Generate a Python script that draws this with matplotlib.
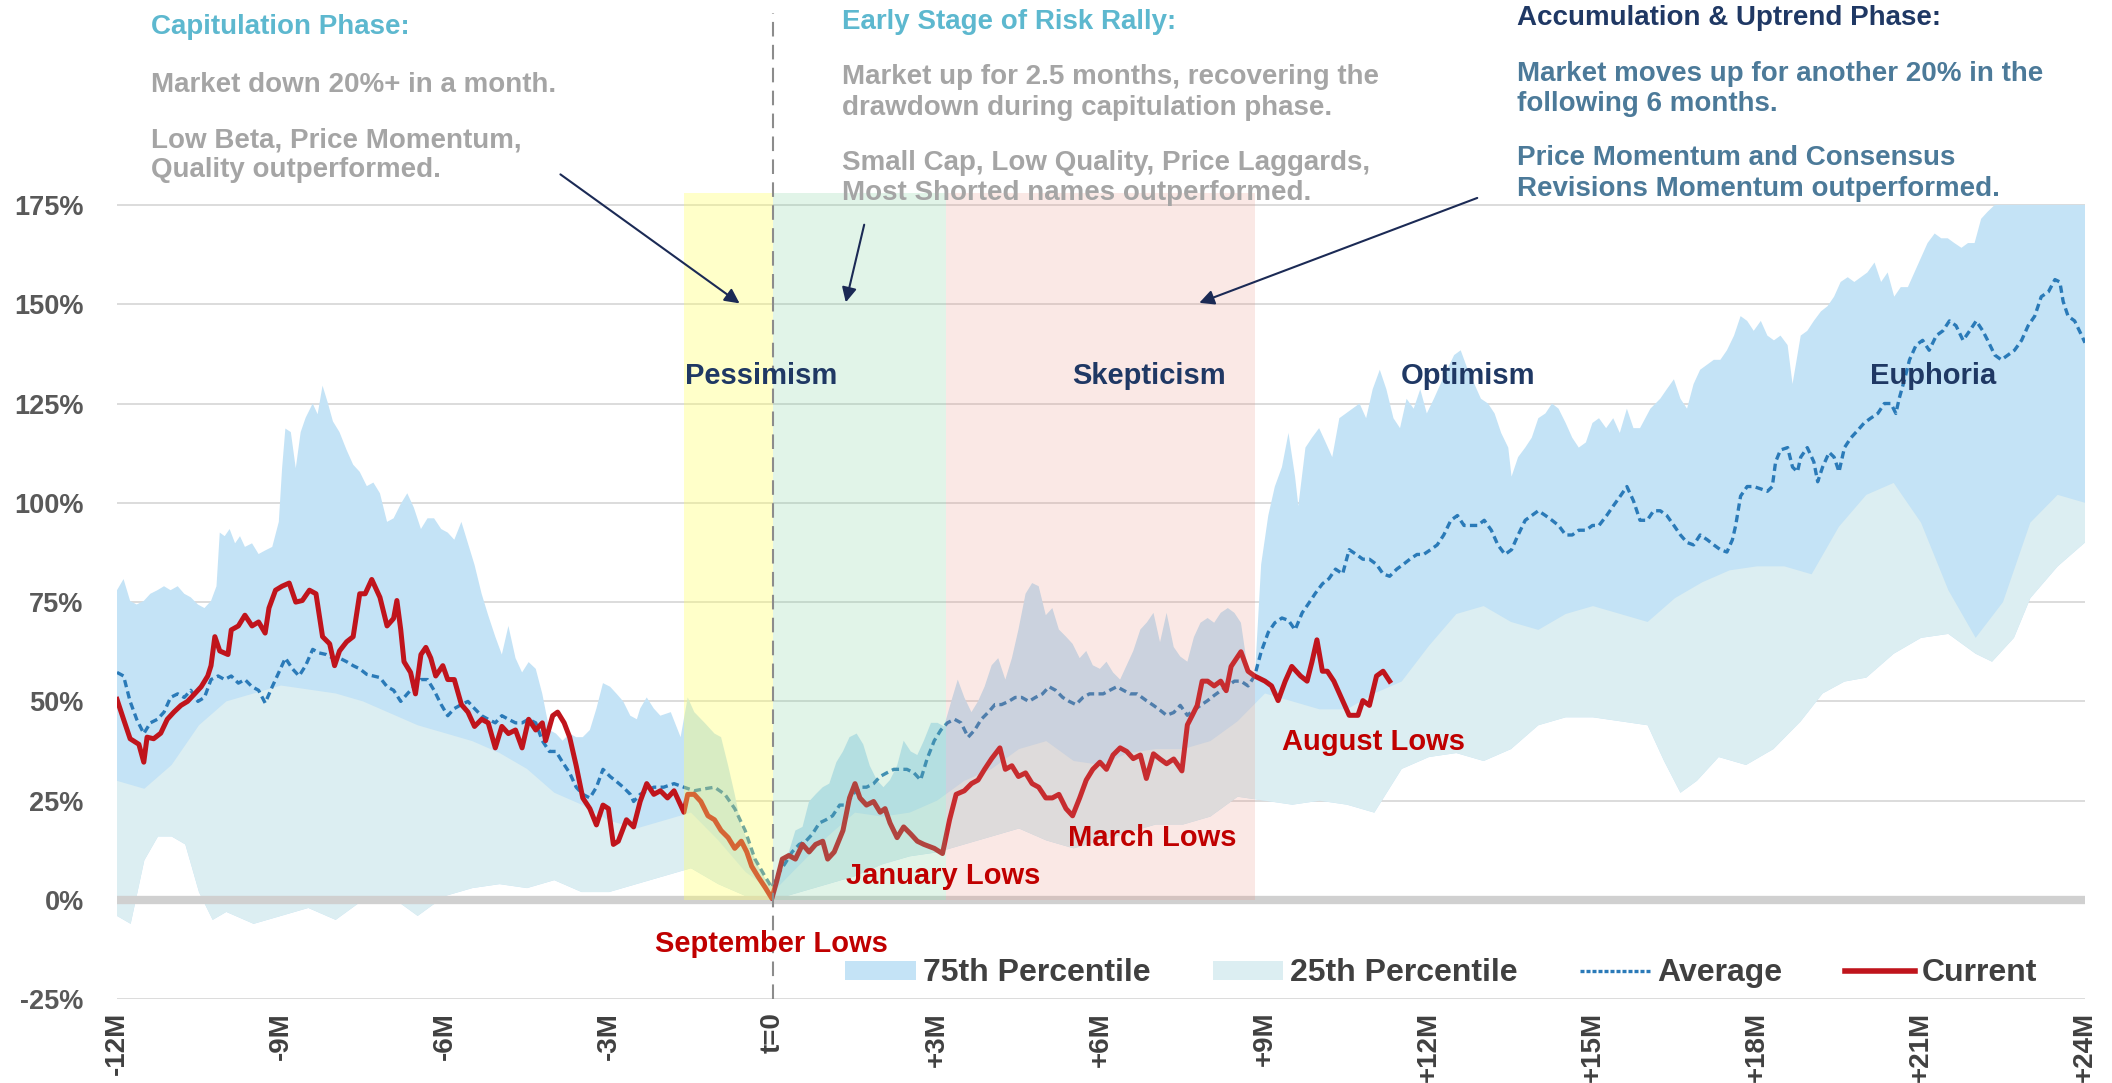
import numpy as np
import matplotlib
matplotlib.use('Agg')
import matplotlib.pyplot as plt
from matplotlib.patches import Patch
from matplotlib.lines import Line2D

plt.rcParams['font.family'] = ['Liberation Sans', 'DejaVu Sans']

# months from the September low (t=0), returns in %
cur_m = [-12.0, -11.88, -11.76, -11.6, -11.51, -11.45, -11.33, -11.2, -11.08, -10.96, -10.83, -10.71,
         -10.58, -10.46, -10.34, -10.28, -10.21, -10.12, -9.97, -9.91, -9.78, -9.66, -9.53, -9.41,
         -9.29, -9.22, -9.1, -8.98, -8.85, -8.73, -8.61, -8.48, -8.36, -8.24, -8.11, -8.02, -7.93,
         -7.8, -7.68, -7.56, -7.46, -7.34, -7.25, -7.19, -7.06, -6.94, -6.88, -6.81, -6.75, -6.63,
         -6.54, -6.44, -6.35, -6.26, -6.17, -6.04, -5.95, -5.83, -5.7, -5.58, -5.46, -5.33, -5.21,
         -5.08, -4.96, -4.84, -4.71, -4.59, -4.47, -4.34, -4.22, -4.16, -4.03, -3.94, -3.82, -3.72,
         -3.6, -3.48, -3.35, -3.23, -3.11, -3.01, -2.92, -2.83, -2.68, -2.55, -2.43, -2.31, -2.18,
         -2.06, -1.93, -1.81, -1.72, -1.63, -1.56, -1.44, -1.32, -1.19, -1.07, -0.95, -0.82, -0.7,
         -0.58, -0.48, -0.39, -0.27, -0.14, -0.02, 0.07, 0.17, 0.29, 0.41, 0.54, 0.66, 0.78, 0.91,
         1.0, 1.12, 1.28, 1.4, 1.5, 1.59, 1.71, 1.84, 1.96, 2.05, 2.14, 2.27, 2.39, 2.52, 2.64,
         2.76, 2.95, 3.1, 3.23, 3.35, 3.5, 3.63, 3.75, 3.87, 4.0, 4.15, 4.25, 4.37, 4.49, 4.62,
         4.74, 4.86, 4.99, 5.11, 5.23, 5.36, 5.48, 5.61, 5.73, 5.85, 5.98, 6.1, 6.22, 6.35, 6.47,
         6.59, 6.72, 6.83, 6.96, 7.08, 7.2, 7.33, 7.48, 7.58, 7.67, 7.76, 7.85, 7.95, 8.07, 8.19,
         8.29, 8.38, 8.5, 8.56, 8.69, 8.81, 9.0, 9.12, 9.24, 9.37, 9.49, 9.65, 9.77, 9.86, 9.95,
         10.05, 10.14, 10.26, 10.42, 10.54, 10.7, 10.79, 10.91, 11.04, 11.16, 11.28]
cur_v = [50.5, 45.5, 40.6, 39.2, 34.7, 41, 40.6, 42, 45.5, 47.3, 49, 50,
         51.9, 53.7, 56.4, 59, 66.3, 62.7, 61.8, 68, 69, 71.7, 69, 70,
         67.2, 73.5, 78, 79, 79.8, 75, 75.4, 78, 77.1, 66.3, 64.5, 59, 62.7,
         65, 66.3, 77.1, 77.1, 80.7, 78, 76.2, 69, 70.9, 75.4, 68.1, 60, 57.3,
         51.9, 61.8, 63.6, 60.9, 56.4, 59, 55.5, 55.5, 49.2, 47.3, 43.7, 45.5, 44.6,
         38.3, 43.7, 41.9, 42.8, 38.3, 45.5, 42.8, 44.6, 40.1, 46.4, 47.3, 44.6, 41,
         33.8, 25.7, 23, 18.9, 23.9, 23, 14, 14.8, 20.2, 18.4, 24.8, 29.3, 26.6,
         27.5, 25.7, 27.5, 24.8, 22.1, 26.6, 26.6, 24.8, 21.2, 20.2, 17.5, 15.7, 13,
         14.8, 12.1, 8.5, 5.8, 3.1, 0.4, 4.9, 10.3, 11.2, 10.3, 14, 12.1, 14, 14.8,
         10.3, 12.1, 17.5, 25.7, 29.3, 25.7, 23.9, 24.8, 22.1, 23, 19.4, 15.7, 18.4, 16.6, 14.8,
         14, 13, 11.7, 20.2, 26.6, 27.5, 29.3, 30.2, 32.9, 35.6, 38.3, 32.9, 33.8, 31.1, 32,
         29.3, 28.4, 25.7, 25.7, 26.6, 23, 21.2, 25.7, 30.2, 32.9, 34.7, 32.9, 36.5, 38.3, 37.4,
         35.6, 36.5, 30.6, 36.8, 35.5, 34.3, 35.5, 32.5, 44.1, 46.5, 49, 55.1, 55.1, 53.9, 55.1,
         52.7, 58.8, 61.3, 62.5, 57.6, 56.4, 55.1, 53.9, 50.2, 55.1, 58.8, 56.4, 55.1, 60, 65.5,
         57.6, 57.6, 55.1, 50.2, 46.5, 46.5, 50.2, 49, 56.4, 57.6, 55.1]

avg_m = [-12.0, -11.88, -11.76, -11.64, -11.51, -11.39, -11.26, -11.14, -11.02, -10.89, -10.77, -10.65,
         -10.52, -10.4, -10.28, -10.15, -10.03, -9.91, -9.78, -9.66, -9.53, -9.41, -9.29, -9.16,
         -9.04, -8.92, -8.79, -8.67, -8.55, -8.42, -8.3, -8.17, -8.05, -7.93, -7.8, -7.68, -7.56,
         -7.43, -7.31, -7.19, -7.06, -6.94, -6.81, -6.69, -6.57, -6.44, -6.32, -6.2, -6.07, -5.95,
         -5.83, -5.7, -5.58, -5.46, -5.33, -5.21, -5.08, -4.96, -4.84, -4.71, -4.59, -4.47, -4.34,
         -4.22, -4.09, -3.97, -3.85, -3.72, -3.6, -3.48, -3.35, -3.23, -3.11, -2.98, -2.86, -2.74,
         -2.61, -2.55, -2.43, -2.31, -2.18, -2.0, -1.81, -1.63, -1.44, -1.25, -1.07, -0.88, -0.7,
         -0.51, -0.33, -0.14, -0.02, 0.1, 0.23, 0.35, 0.48, 0.6, 0.72, 0.85, 0.97, 1.09, 1.22,
         1.34, 1.46, 1.59, 1.71, 1.84, 1.96, 2.08, 2.21, 2.33, 2.45, 2.58, 2.7, 2.82, 2.95, 3.07,
         3.19, 3.32, 3.44, 3.57, 3.69, 3.81, 3.94, 4.06, 4.18, 4.31, 4.43, 4.55, 4.68, 4.8, 4.93,
         5.05, 5.17, 5.3, 5.42, 5.54, 5.67, 5.79, 5.91, 6.04, 6.16, 6.29, 6.41, 6.53, 6.66, 6.83,
         6.96, 7.08, 7.2, 7.33, 7.45, 7.58, 7.7, 7.82, 7.95, 8.07, 8.19, 8.32, 8.44, 8.56, 8.69,
         8.81, 8.93, 9.06, 9.18, 9.31, 9.43, 9.55, 9.68, 9.8, 9.92, 10.05, 10.17, 10.29, 10.42,
         10.54, 10.67, 10.79, 10.91, 11.04, 11.16, 11.28, 11.41, 11.53, 11.65, 11.78, 11.9, 12.03,
         12.15, 12.27, 12.4, 12.52, 12.64, 12.77, 12.89, 13.01, 13.14, 13.26, 13.39, 13.51, 13.63,
         13.76, 13.88, 14.0, 14.13, 14.25, 14.37, 14.5, 14.62, 14.74, 14.87, 14.99, 15.11, 15.25,
         15.37, 15.5, 15.62, 15.74, 15.86, 15.99, 16.11, 16.23, 16.35, 16.48, 16.6, 16.72, 16.84,
         16.96, 17.09, 17.21, 17.33, 17.45, 17.55, 17.61, 17.7, 17.82, 17.94, 18.07, 18.19, 18.28,
         18.34, 18.43, 18.56, 18.65, 18.74, 18.8, 18.92, 19.04, 19.11, 19.2, 19.32, 19.41, 19.5,
         19.6, 19.72, 19.84, 19.96, 20.08, 20.21, 20.33, 20.45, 20.54, 20.6, 20.7, 20.79, 20.91,
         21.03, 21.15, 21.28, 21.4, 21.52, 21.64, 21.77, 21.89, 22.01, 22.13, 22.22, 22.35, 22.47,
         22.59, 22.71, 22.84, 22.96, 23.08, 23.2, 23.33, 23.45, 23.54, 23.6, 23.69, 23.81, 23.94, 24.0]
avg_v = [57.3, 56.4, 50, 45.5, 41.9, 44.6, 45.5, 47.3, 51, 51.9, 51, 52.8,
         50, 51, 55.5, 56.4, 55.5, 56.4, 54.6, 55.5, 53.7, 52.8, 49.6, 53.7,
         57.3, 60.9, 58.2, 56.4, 59, 63.1, 62.2, 61.8, 60.9, 60.9, 60, 59, 58.2,
         56.8, 56.4, 56, 53.7, 52.8, 50, 51.9, 53.7, 55.5, 55.5, 52.8, 49.2, 46.4,
         48.2, 49.2, 50, 48.2, 46.4, 45.5, 44.6, 46.4, 45.5, 44.6, 44.6, 45.5, 44.6,
         40.1, 37.4, 37.4, 34.7, 32, 28.4, 26.6, 25.7, 28.4, 32.9, 31.1, 29.8, 28.4,
         26.6, 24.8, 26.6, 27.5, 28.4, 28.4, 29.3, 28.4, 27.5, 28, 28.4, 26.6, 23,
         17.5, 10.3, 5.8, 3.1, 6.7, 9.4, 12.1, 14, 14.8, 16.6, 19.4, 20.2, 21.2, 23.9,
         23.9, 26.6, 28.4, 28.4, 29.3, 31.1, 32, 32.9, 32.9, 32.9, 32, 30.2, 35.6, 40.1, 42.8,
         44.6, 45.5, 44.6, 41, 42.8, 45.5, 47.3, 49.2, 49.2, 50, 51, 51, 50, 51, 51.9,
         53.7, 52.8, 51, 50, 49.2, 51, 51.9, 51.9, 51.9, 52.8, 53.7, 52.8, 51.9, 51.9, 50.2,
         49, 47.8, 46.5, 47.2, 49, 46.5, 47.8, 49, 50.2, 51.5, 52.7, 53.9, 55.1, 55.1, 53.9,
         56.4, 62.5, 67.4, 69.8, 71, 70.4, 68, 72.3, 74.7, 77.2, 79.6, 80.9, 83.3, 82.1,
         88.2, 87, 85.8, 85.8, 84.5, 82.1, 81.5, 83.3, 84.5, 85.8, 87, 87, 88.2,
         89.4, 91.9, 95.6, 96.8, 94.3, 94.3, 94.3, 95.6, 93.1, 89.4, 87, 88.2, 91.9,
         95.6, 96.8, 98, 96.8, 95.6, 94.3, 91.9, 91.9, 93.1, 93.1, 94.3, 94.3, 96.8,
         99.2, 101.7, 104.1, 100.5, 95.6, 95.6, 98, 98, 96.8, 94.3, 91.9, 90, 89.4,
         91.9, 90.7, 89.4, 88.2, 87.6, 90.7, 94.3, 101.7, 104.1, 104.1, 103.5, 102.9, 104.1,
         110.3, 113.3, 113.9, 109, 107.8, 111.5, 113.9, 110.3, 105.3, 109, 112.7, 111.5, 107.8,
         113.9, 116.4, 118.2, 120.1, 121.3, 122.5, 125, 125, 122.5, 126.2, 131.1, 136, 139.7,
         140.9, 138.4, 142.1, 143.3, 145.8, 144.6, 140.9, 143.3, 145.8, 143.3, 140.9, 137.2, 136,
         137.2, 138.4, 140.9, 144.6, 147, 151.9, 153.1, 156.2, 155.6, 150.7, 147, 145.8, 142.1, 140.3]

# upper edge of the 75th percentile band
p75_m = [-12.0, -11.88, -11.76, -11.64, -11.51, -11.39, -11.26, -11.14, -11.02, -10.89, -10.77, -10.65,
         -10.52, -10.4, -10.28, -10.18, -10.12, -10.03, -9.94, -9.84, -9.75, -9.66, -9.53, -9.41,
         -9.29, -9.16, -9.04, -8.98, -8.92, -8.82, -8.73, -8.64, -8.55, -8.42, -8.33, -8.24, -8.14,
         -8.05, -7.93, -7.8, -7.68, -7.56, -7.43, -7.31, -7.19, -7.06, -6.94, -6.81, -6.69, -6.57,
         -6.44, -6.32, -6.2, -6.07, -5.95, -5.83, -5.7, -5.58, -5.46, -5.33, -5.21, -5.08, -4.96,
         -4.84, -4.71, -4.59, -4.47, -4.34, -4.22, -4.09, -3.97, -3.85, -3.72, -3.6, -3.48, -3.35,
         -3.23, -3.11, -2.98, -2.86, -2.74, -2.61, -2.49, -2.43, -2.31, -2.18, -2.06, -1.87, -1.69,
         -1.56, -1.44, -1.25, -1.07, -0.95, -0.82, -0.7, -0.58, -0.45, -0.33, -0.2, -0.08, 0.04,
         0.17, 0.29, 0.41, 0.54, 0.66, 0.78, 0.91, 1.03, 1.16, 1.28, 1.4, 1.53, 1.65, 1.77, 1.9,
         2.02, 2.14, 2.27, 2.39, 2.52, 2.64, 2.76, 2.89, 3.01, 3.13, 3.26, 3.38, 3.5, 3.63, 3.75,
         3.87, 4.0, 4.12, 4.25, 4.37, 4.49, 4.62, 4.74, 4.86, 4.99, 5.11, 5.23, 5.36, 5.48, 5.61,
         5.73, 5.85, 5.98, 6.1, 6.22, 6.35, 6.47, 6.59, 6.72, 6.84, 6.96, 7.08, 7.2, 7.33, 7.45,
         7.58, 7.7, 7.82, 7.95, 8.07, 8.19, 8.32, 8.44, 8.56, 8.69, 8.81, 8.93, 9.06, 9.18, 9.31,
         9.43, 9.55, 9.61, 9.74, 9.86, 9.99, 10.11, 10.23, 10.36, 10.48, 10.6, 10.73, 10.85, 10.97,
         11.1, 11.22, 11.35, 11.47, 11.59, 11.72, 11.84, 11.96, 12.09, 12.21, 12.33, 12.46, 12.58,
         12.71, 12.83, 12.95, 13.08, 13.2, 13.32, 13.45, 13.51, 13.63, 13.76, 13.88, 14.0, 14.13,
         14.25, 14.37, 14.5, 14.62, 14.74, 14.87, 14.99, 15.11, 15.24, 15.37, 15.49, 15.62, 15.74,
         15.86, 16.05, 16.23, 16.35, 16.48, 16.6, 16.72, 16.84, 16.96, 17.09, 17.21, 17.33, 17.45,
         17.58, 17.7, 17.82, 17.94, 18.07, 18.19, 18.31, 18.43, 18.56, 18.65, 18.8, 18.92, 19.04,
         19.17, 19.29, 19.41, 19.53, 19.66, 19.78, 19.9, 20.02, 20.15, 20.27, 20.39, 20.51, 20.63,
         20.76, 20.88, 21.0, 21.12, 21.25, 21.37, 21.49, 21.61, 21.74, 21.86, 21.98, 22.1, 22.22,
         22.35, 24.0]
p75_v = [78, 80.8, 75.3, 74.4, 75.3, 77.1, 78, 79, 78, 79, 77.1, 76.2,
         74.4, 73.5, 75.3, 79, 92.5, 91.6, 93.4, 89.8, 91.6, 88.9, 89.8, 87.1,
         88, 88.9, 95.2, 108.7, 118.7, 117.8, 108.7, 117.8, 121.4, 125, 122.3, 129.5, 125,
         120.5, 117.8, 113.3, 109.6, 107.8, 104.2, 105.1, 102.4, 95.2, 96.1, 99.7, 102.4, 98.8,
         93.4, 96.1, 96.1, 93.4, 92.5, 90.7, 95.2, 89.8, 84.4, 77.1, 71.7, 66.3, 61.8,
         69, 60.9, 57.3, 59.9, 58.2, 51.9, 42.8, 41.9, 40.1, 41.9, 41, 41, 42.8,
         48.2, 54.6, 53.7, 51.9, 50, 46.4, 45.5, 48.2, 51, 48.2, 46.4, 47.3, 41,
         51, 47.3, 44.6, 41.9, 41, 33.8, 26.6, 18.4, 14.8, 10.3, 6.7, 4, 4.9,
         10.3, 12.1, 17.5, 18.4, 24.8, 26.6, 28.4, 29.3, 34.7, 37.4, 41, 41.9, 39.2, 33.8, 30.2,
         28.4, 30.2, 33.8, 40.1, 37.4, 36.5, 40.1, 44.6, 44.6, 43.7, 50, 55.5, 51, 47.3, 50,
         53.7, 59.1, 60.9, 55.5, 60.9, 68.1, 77.1, 79.8, 79, 71.7, 73.5, 68.1, 66.3, 64.5, 60.9,
         62.7, 59.1, 58.2, 60, 57.3, 55.5, 59.1, 62.7, 68.1, 69.9, 72.3, 64.9, 72.3, 63.7, 61.3,
         60, 66.2, 69.8, 71, 69.8, 72.3, 73.5, 72.3, 69.8, 57.6, 55.1, 84.5, 96.8, 104.1, 109,
         117.6, 106.6, 99.2, 113.9, 116.4, 118.8, 115.2, 111.5, 121.3, 122.5, 123.7, 125, 121.3, 128.6,
         133.5, 128.6, 121.3, 118.8, 126.2, 123.7, 128.6, 122.5, 126.2, 129.9, 133.5, 137.2, 138.4,
         133.5, 129.9, 126.2, 125, 122.5, 117.6, 113.9, 106.6, 111.5, 113.9, 116.4, 121.3, 122.5,
         125, 123.7, 120.1, 116.4, 113.9, 115.2, 120.1, 121.3, 118.8, 121.3, 117.6, 123.7, 118.8,
         118.8, 123.7, 126.2, 128.6, 131.1, 126.2, 123.7, 129.9, 133.5, 134.8, 136, 136, 138.4,
         142.1, 147, 145.8, 143.3, 145.8, 142.1, 140.9, 142.1, 139.7, 129.9, 142.1, 143.3, 145.8,
         148.2, 149.5, 151.9, 155.6, 156.8, 155.6, 156.8, 158, 160.5, 155.6, 158, 151.9, 154.3,
         154.3, 158, 161.7, 165.4, 167.8, 166.6, 166.6, 165.4, 164.2, 165.4, 165.4, 171.5, 173.3,
         175, 175]

# upper edge of the 25th percentile band
p25_m = [-12, -11.5, -11, -10.5, -10, -9.5, -9, -8.5, -8, -7.5, -7, -6.5, -6, -5.5, -5, -4.5,
         -4, -3.5, -3, -2.5, -2, -1.5, -1, -0.5, 0, 0.5, 1, 1.5, 2, 2.5, 3, 3.5, 4, 4.5, 5,
         5.5, 6, 6.5, 7, 7.5, 8, 8.5, 9, 9.5, 10, 10.5, 11, 11.5, 12, 12.5, 13, 13.5, 14, 14.5,
         15, 15.5, 16, 16.5, 17, 17.5, 18, 18.5, 19, 19.5, 20, 20.5, 21, 21.5, 22, 22.5, 23,
         23.5, 24]
p25_v = [30, 28, 34, 44, 50, 52, 54, 53, 52, 50, 47, 44, 42, 40, 37, 33,
         27, 24, 20, 18, 20, 22, 15, 7, 2, 9, 16, 22, 21, 22, 25, 30, 33, 38, 40,
         35, 34, 37, 38, 38, 40, 45, 52, 50, 48, 48, 52, 55, 64, 72, 74, 70, 68, 72,
         74, 72, 70, 76, 80, 83, 84, 84, 82, 94, 102, 105, 95, 78, 66, 75, 95,
         102, 100]

# lower edge of the shaded distribution
low_m = [-12, -11.75, -11.5, -11.25, -11, -10.75, -10.5, -10.25, -10, -9.5, -9, -8.5, -8, -7.5,
         -7, -6.5, -6, -5.5, -5, -4.5, -4, -3.5, -3, -2.5, -2, -1.5, -1, -0.5, 0, 0.5, 1, 1.5,
         2, 2.5, 3, 3.5, 4, 4.5, 5, 5.5, 6, 6.5, 7, 7.5, 8, 8.5, 9, 9.5, 10, 10.5, 11, 11.5,
         12, 12.5, 13, 13.5, 14, 14.5, 15, 15.5, 16, 16.3, 16.6, 16.9, 17.3, 17.8, 18.3, 18.8,
         19.2, 19.6, 20, 20.5, 21, 21.5, 22, 22.3, 22.7, 23, 23.5, 24]
low_v = [-4, -6, 10, 16, 16, 14, 2, -5, -3, -6, -4, -2, -5, 0,
         1, -4, 1, 3, 4, 3, 5, 2, 2, 4, 6, 8, 4, 1, 0, 2, 4, 6,
         9, 11, 12, 14, 16, 18, 15, 13, 15, 17, 19, 19, 21, 26, 25, 24, 25, 24, 22, 33,
         36, 37, 35, 38, 44, 46, 46, 45, 44, 35, 27, 30, 36, 34, 38, 45,
         52, 55, 56, 62, 66, 67, 62, 60, 66, 76, 84, 90]

# market phases shaded behind the series
phase_spans = [(-1.63, 0.0), (0.0, 3.17), (3.17, 8.81)]
phase_colors = ['#FFFF66', '#88D4A4', '#E89080']
phase_alpha = [0.35, 0.25, 0.2]
phase_names = ['Pessimism', 'Skepticism', 'Optimism', 'Euphoria']
phase_name_x = [-0.22, 6.88, 12.71, 21.22]

lows_text = ['September Lows', 'January Lows', 'March Lows', 'August Lows']
lows_x = [-0.02, 3.11, 6.93, 10.99]
lows_y = [-11.1, 6.0, 15.6, 39.8]

xticks = list(range(-12, 25, 3))
xlabels = ['-12M', '-9M', '-6M', '-3M', 't=0', '+3M', '+6M', '+9M', '+12M', '+15M', '+18M', '+21M', '+24M']
yticks = list(range(-25, 176, 25))

BLUE = '#C4E3F6'
PALE = '#DCEEF2'
RED = '#C0141C'
AVG = '#2A7AB8'
NAVY = '#1F3864'
TEAL = '#5DB8CF'
GRAY = '#A5A5A5'
STEEL = '#4C7A99'

W, H = 2112, 1083
fig = plt.figure(figsize=(W / 100, H / 100), dpi=100)
ax = fig.add_axes([117 / W, 1 - 999.3 / H, 1968 / W, 806.3 / H])
ymin, ymax = -25, 178
ax.set_xlim(-12, 24)
ax.set_ylim(ymin, ymax)

for y in yticks:
    if y == 0:
        continue
    ax.axhline(y, color='#D9D9D9', lw=1.3, zorder=0.5)
ax.axhline(0, color='#D0D0D0', lw=6, zorder=1.5)

# bands: light blue up to the 75th pct, pale up to the 25th pct
ax.fill(np.r_[p75_m, low_m[::-1]], np.r_[p75_v, low_v[::-1]], color=BLUE, lw=0, zorder=1)
ax.fill(np.r_[p25_m, low_m[::-1]], np.r_[p25_v, low_v[::-1]], color=PALE, lw=0, zorder=1.1)

ax.plot(avg_m, avg_v, color=AVG, lw=2.4, ls=(0, (2.2, 1.3)), zorder=2)
ax.plot(cur_m, cur_v, color=RED, lw=3.6, zorder=2.1, solid_joinstyle='round')

for (x0, x1), c, a in zip(phase_spans, phase_colors, phase_alpha):
    ax.axvspan(x0, x1, ymin=(0 - ymin) / (ymax - ymin), ymax=1, color=c, alpha=a, lw=0, zorder=3)

ax.axvline(0, ymin=0, ymax=(999.3 - 13) / 806.3, color='#8C8C8C', lw=1.5,
           ls=(0, (7, 4)), clip_on=False, zorder=3.5)

for name, x in zip(phase_names, phase_name_x):
    ax.text(x, 132, name, color=NAVY, fontsize=21, fontweight='bold', ha='center', va='center', zorder=5)
for t, x, y in zip(lows_text, lows_x, lows_y):
    ax.text(x, y, t, color='#C00000', fontsize=21, fontweight='bold', ha='center', va='center', zorder=5)

arrows = [((-3.93, 183.1), (-0.57, 149.8)), ((1.68, 170.7), (1.32, 149.8)), ((12.93, 177.0), (7.75, 150.1))]
for tail, head in arrows:
    ax.annotate('', xy=head, xytext=tail, annotation_clip=False, zorder=6,
                arrowprops=dict(arrowstyle='-|>', color='#1B2A55', lw=1.5, mutation_scale=22))

notes = [
    (151, 27, 'Capitulation Phase:', TEAL),
    (151, 85, 'Market down 20%+ in a month.', GRAY),
    (151, 140, 'Low Beta, Price Momentum,', GRAY),
    (151, 170, 'Quality outperformed.', GRAY),
    (842, 22, 'Early Stage of Risk Rally:', TEAL),
    (842, 77, 'Market up for 2.5 months, recovering the', GRAY),
    (842, 108, 'drawdown during capitulation phase.', GRAY),
    (842, 163, 'Small Cap, Low Quality, Price Laggards,', GRAY),
    (842, 193, 'Most Shorted names outperformed.', GRAY),
    (1517, 18, 'Accumulation & Uptrend Phase:', NAVY),
    (1517, 74, 'Market moves up for another 20% in the', STEEL),
    (1517, 104, 'following 6 months.', STEEL),
    (1517, 158, 'Price Momentum and Consensus', STEEL),
    (1517, 189, 'Revisions Momentum outperformed.', STEEL),
]
for x, y, t, c in notes:
    fig.text(x / W, 1 - y / H, t, color=c, fontsize=20, fontweight='bold', ha='left', va='center')

ax.set_xticks(xticks)
ax.set_xticklabels(xlabels, rotation=90, fontsize=20, fontweight='bold', color='#404040')
ax.set_yticks(yticks)
ax.set_yticklabels([f'{v}%' for v in yticks], fontsize=19.5, fontweight='bold', color='#595959')
ax.tick_params(axis='both', length=0)
ax.tick_params(axis='x', pad=9)
ax.tick_params(axis='y', pad=24)
for s in ax.spines.values():
    s.set_visible(False)

handles = [Patch(facecolor=BLUE, edgecolor='none'),
           Patch(facecolor=PALE, edgecolor='none'),
           Line2D([], [], color=AVG, lw=2.4, ls=(0, (1.2, 0.6))),
           Line2D([], [], color=RED, lw=4)]
labels = ['75th Percentile', '25th Percentile', 'Average', 'Current']
ax.legend(handles, labels, loc='center left', bbox_to_anchor=(0.3555, 0.032), ncol=4, frameon=False,
          handlelength=2.2, handleheight=0.55, columnspacing=1.95, handletextpad=0.22,
          prop={'size': 23, 'weight': 'bold'}, labelcolor='#404040')

fig.savefig('out.png', dpi=100)
